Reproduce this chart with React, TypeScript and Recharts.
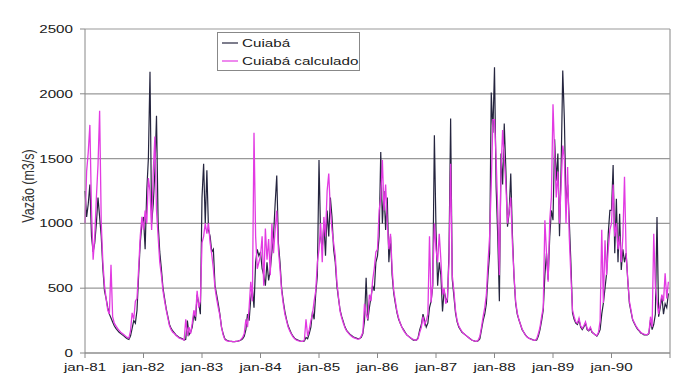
import { LineChart, Line, XAxis, YAxis, CartesianGrid, ReferenceLine, Legend } from 'recharts';

const years = [1981, 1982, 1983, 1984, 1985, 1986, 1987, 1988, 1989, 1990];
const xTicks = [1981, 1982, 1983, 1984, 1985, 1986, 1987, 1988, 1989, 1990, 1991];
const xLabels = ['jan-81', 'jan-82', 'jan-83', 'jan-84', 'jan-85', 'jan-86', 'jan-87', 'jan-88', 'jan-89', 'jan-90', ''];
const yTicks = [0, 500, 1000, 1500, 2000, 2500];

// vazão observada, ~10 em 10 dias (36 por ano)
const cuiaba = [
  [1250, 1050, 1150, 1300, 900, 780, 850, 1000, 1200, 1050, 900, 650, 480, 420, 350, 300, 270, 240, 210, 190, 175, 160, 150, 140, 130, 120, 110, 105, 130, 190, 250, 230, 330, 600, 850, 1000],
  [1050, 800, 1250, 1500, 2170, 1000, 1150, 1400, 1830, 1000, 780, 650, 500, 420, 340, 280, 220, 190, 170, 155, 140, 130, 120, 115, 110, 100, 105, 250, 140, 160, 200, 300, 250, 450, 380, 300],
  [1200, 1460, 1000, 1410, 950, 900, 780, 800, 520, 450, 380, 300, 200, 150, 110, 100, 95, 90, 90, 88, 88, 90, 92, 95, 100, 110, 130, 180, 300, 250, 420, 500, 350, 700, 800, 750],
  [780, 650, 600, 520, 700, 560, 640, 780, 900, 1150, 1370, 850, 700, 500, 400, 320, 260, 210, 180, 150, 130, 115, 105, 100, 95, 90, 90, 92, 120, 110, 150, 200, 320, 260, 460, 600],
  [1490, 900, 800, 1000, 750, 1100, 900, 1200, 1050, 800, 700, 520, 420, 330, 280, 240, 200, 175, 160, 145, 135, 125, 120, 115, 110, 112, 120, 150, 250, 580, 250, 350, 430, 520, 480, 700],
  [750, 900, 1550, 1000, 1250, 950, 1200, 700, 900, 600, 460, 380, 310, 260, 230, 200, 180, 160, 140, 130, 120, 110, 100, 100, 100, 120, 180, 220, 300, 250, 200, 230, 350, 400, 520, 1680],
  [950, 520, 700, 600, 320, 480, 420, 390, 780, 1810, 570, 440, 310, 240, 200, 180, 160, 150, 140, 130, 120, 110, 100, 95, 92, 90, 95, 110, 180, 250, 300, 380, 600, 770, 2010, 1700],
  [2205, 1280, 900, 400, 1540, 1300, 1770, 1410, 975, 1080, 1385, 920, 590, 385, 300, 256, 220, 180, 160, 140, 125, 115, 110, 105, 100, 98, 100, 130, 180, 250, 333, 600, 770, 565, 900, 1100],
  [1025, 1650, 1330, 1540, 900, 1435, 2180, 1800, 1150, 1300, 1025, 700, 310, 260, 230, 220, 256, 200, 180, 200, 230, 180, 170, 190, 160, 150, 140, 130, 150, 180, 300, 385, 500, 615, 920, 1100],
  [1100, 1450, 770, 1190, 700, 1075, 640, 800, 700, 770, 565, 385, 320, 256, 230, 205, 185, 170, 155, 148, 140, 140, 140, 150, 256, 180, 220, 300, 1050, 280, 350, 435, 300, 380, 350, 460],
];

// vazão calculada
const calculado = [
  [1000, 1400, 1550, 1760, 1100, 720, 900, 1200, 1450, 1870, 1000, 700, 520, 420, 330, 300, 680, 280, 230, 210, 190, 175, 160, 150, 140, 130, 120, 115, 170, 310, 260, 400, 420, 650, 900, 1050],
  [950, 1100, 1000, 1350, 1250, 950, 1400, 1670, 1100, 900, 700, 600, 480, 400, 330, 270, 210, 180, 160, 150, 135, 125, 115, 110, 105, 100, 260, 130, 200, 150, 230, 330, 280, 480, 350, 400],
  [850, 900, 1000, 920, 1000, 850, 760, 650, 500, 420, 350, 290, 200, 140, 105, 95, 92, 90, 90, 88, 88, 90, 92, 95, 105, 120, 150, 260, 200, 350, 550, 400, 1700, 900, 650, 700],
  [750, 900, 520, 960, 720, 880, 600, 1000, 770, 950, 1100, 800, 650, 480, 380, 300, 250, 200, 170, 145, 125, 110, 100, 95, 92, 90, 90, 100, 260, 130, 180, 250, 300, 400, 480, 700],
  [800, 1000, 700, 1050, 900, 1250, 1385, 1100, 950, 850, 750, 550, 430, 320, 270, 230, 195, 170, 155, 140, 130, 120, 115, 110, 105, 110, 130, 160, 380, 300, 260, 450, 400, 560, 650, 780],
  [800, 1100, 1200, 1490, 1100, 1300, 1000, 800, 920, 650, 480, 400, 320, 270, 230, 200, 175, 155, 140, 130, 120, 110, 105, 100, 100, 110, 160, 200, 280, 220, 250, 300, 900, 390, 540, 1000],
  [800, 700, 920, 720, 450, 500, 380, 420, 700, 1460, 600, 480, 330, 250, 210, 185, 165, 150, 140, 130, 120, 110, 100, 95, 92, 90, 100, 130, 200, 280, 350, 450, 700, 900, 1300, 1800],
  [1800, 1500, 1100, 600, 1400, 1720, 1500, 1300, 1000, 1100, 1200, 850, 600, 400, 310, 260, 220, 185, 160, 140, 125, 115, 108, 103, 100, 98, 110, 150, 200, 280, 350, 1025, 770, 550, 1025, 1200],
  [1920, 1540, 1200, 1400, 1000, 1300, 1600, 1500, 1000, 1435, 900, 600, 330, 280, 240, 230, 270, 210, 190, 210, 240, 190, 175, 200, 165, 150, 140, 135, 160, 250, 950, 385, 870, 600, 800, 950],
  [1000, 1300, 900, 1000, 800, 900, 700, 900, 1360, 770, 565, 400, 330, 260, 235, 210, 190, 175, 160, 150, 145, 142, 142, 155, 280, 200, 920, 510, 400, 300, 380, 450, 400, 615, 420, 550],
];

const STEPS = 36;
const data = years.flatMap((yr, i) =>
  cuiaba[i].map((v, k) => ({ t: yr + k / STEPS, cuiaba: v, calculado: calculado[i][k] }))
);

const FONT = '"Liberation Sans", Arial, sans-serif';
const STRETCH = 1.38; // texto do original é esticado na horizontal
const BLACK = '#25253f';
const MAGENTA = '#e23ae2';

const YTick = ({ x, y, payload }: any) => (
  <text transform={`translate(${x},${y}) scale(${STRETCH},1)`} textAnchor="end" dy="0.36em" fontSize={11} fill="#1a1a1a" fontFamily={FONT}>
    {payload.value}
  </text>
);

const XTick = ({ x, y, payload }: any) => (
  <text transform={`translate(${x},${y}) scale(${STRETCH},1)`} textAnchor="middle" dy="0.75em" fontSize={11} fill="#1a1a1a" fontFamily={FONT}>
    {xLabels[xTicks.indexOf(payload.value)]}
  </text>
);

const YLabel = () => (
  <text transform={`translate(28,186) scale(${STRETCH},1) rotate(-90)`} textAnchor="middle" dy="0.36em" fontSize={12.5} fill="#333" fontFamily={FONT}>
    Vazão (m3/s)
  </text>
);

const LegendBox = () => (
  <svg width={143} height={39} style={{ display: 'block' }}>
    <rect x={0.5} y={0.5} width={142} height={38} fill="#fff" stroke="#888" />
    <line x1={5} x2={21} y1={11} y2={11} stroke={BLACK} strokeWidth={1.2} />
    <line x1={5} x2={21} y1={29} y2={29} stroke={MAGENTA} strokeWidth={1.2} />
    <text transform={`translate(25,11) scale(${STRETCH},1)`} dy="0.36em" fontSize={11} fill="#1a1a1a" fontFamily={FONT}>Cuiabá</text>
    <text transform={`translate(25,29) scale(${STRETCH},1)`} dy="0.36em" fontSize={11} fill="#1a1a1a" fontFamily={FONT}>Cuiabá calculado</text>
  </svg>
);

export default function App() {
  return (
    <div style={{ position: 'absolute', left: 0, top: 0, width: 685, height: 383, background: '#fff' }}>
      <LineChart width={685} height={383} data={data} margin={{ top: 29, right: 15, bottom: 0, left: 0 }}>
        <CartesianGrid vertical={false} stroke="#999" strokeWidth={1.2} />
        <XAxis
          dataKey="t"
          type="number"
          domain={[1981, 1991]}
          ticks={xTicks}
          tick={<XTick />}
          height={30}
          tickSize={5}
          tickMargin={5}
          stroke="#888"
          interval={0}
        />
        <YAxis
          domain={[0, 2500]}
          ticks={yTicks}
          tick={<YTick />}
          width={85}
          tickSize={5}
          tickMargin={7}
          stroke="#888"
          label={{ content: YLabel }}
        />
        <ReferenceLine x={1991} stroke="#999" strokeWidth={1.2} />
        <Legend
          layout="horizontal"
          verticalAlign="middle"
          content={LegendBox}
          wrapperStyle={{ left: 217, top: 32, width: 143, height: 39 }}
        />
        <Line type="linear" dataKey="cuiaba" stroke={BLACK} strokeWidth={1.2} dot={false} isAnimationActive={false} />
        <Line type="linear" dataKey="calculado" stroke={MAGENTA} strokeWidth={1.3} dot={false} isAnimationActive={false} />
      </LineChart>
    </div>
  );
}
